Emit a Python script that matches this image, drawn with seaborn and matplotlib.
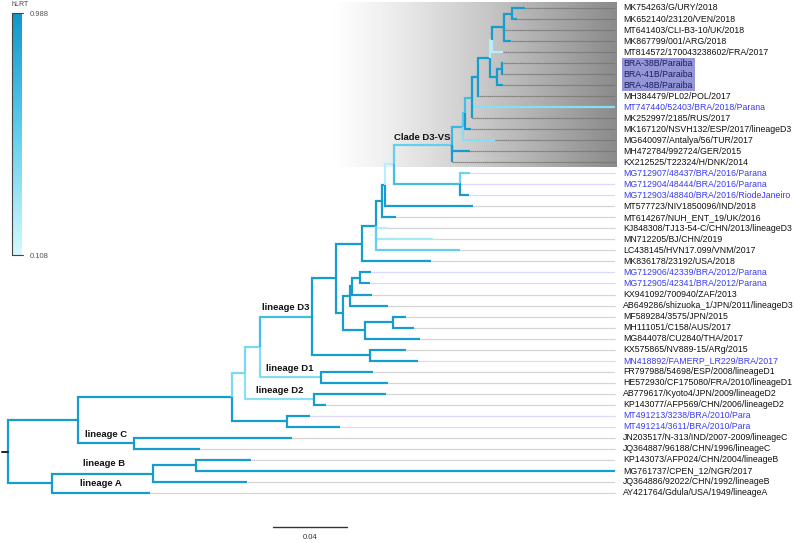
import numpy as np
import matplotlib
matplotlib.use("Agg")
import matplotlib.pyplot as plt
import seaborn as sns

# ---- data -------------------------------------------------------------
leaf_names = [
    "MK754263/G/URY/2018", "MK652140/23120/VEN/2018", "MT641403/CLI-B3-10/UK/2018",
    "MK867799/001/ARG/2018", "MT814572/170043238602/FRA/2017", "BRA-38B/Paraiba",
    "BRA-41B/Paraiba", "BRA-48B/Paraiba", "MH384479/PL02/POL/2017",
    "MT747440/52403/BRA/2018/Parana", "MK252997/2185/RUS/2017",
    "MK167120/NSVH132/ESP/2017/lineageD3", "MG640097/Antalya/56/TUR/2017",
    "MH472784/992724/GER/2015", "KX212525/T22324/H/DNK/2014",
    "MG712907/48437/BRA/2016/Parana", "MG712904/48444/BRA/2016/Parana",
    "MG712903/48840/BRA/2016/RiodeJaneiro", "MT577723/NIV1850096/IND/2018",
    "MT614267/NUH_ENT_19/UK/2016", "KJ848308/TJ13-54-C/CHN/2013/lineageD3",
    "MN712205/BJ/CHN/2019", "LC438145/HVN17.099/VNM/2017", "MK836178/23192/USA/2018",
    "MG712906/42339/BRA/2012/Parana", "MG712905/42341/BRA/2012/Parana",
    "KX941092/700940/ZAF/2013", "AB649286/shizuoka_1/JPN/2011/lineageD3",
    "MF589284/3575/JPN/2015", "MH111051/C158/AUS/2017", "MG844078/CU2840/THA/2017",
    "KX575865/NV889-15/ARg/2015", "MN418892/FAMERP_LR229/BRA/2017",
    "FR797988/54698/ESP/2008/lineageD1", "HE572930/CF175080/FRA/2010/lineageD1",
    "AB779617/Kyoto4/JPN/2009/lineageD2", "KP143077/AFP569/CHN/2006/lineageD2",
    "MT491213/3238/BRA/2010/Para", "MT491214/3611/BRA/2010/Para",
    "JN203517/N-313/IND/2007-2009/lineageC", "JQ364887/96188/CHN/1996/lineageC",
    "KP143073/AFP024/CHN/2004/lineageB", "MG761737/CPEN_12/NGR/2017",
    "JQ364886/92022/CHN/1992/lineageB", "AY421764/Gdula/USA/1949/lineageA",
]

# topology with branch lengths, built clade by clade (leaves are L<index>)
d3vs = ("(((((((((L0:0.0070,L1:0.0027)N01:0.0043,L2:0.0005,L3:0.0038)Q:0.0065,"
        "L4:0.0059)n492:0.0011,((L5:0.0005,L6:0.0005)P1:0.0027,L7:0.0032)P:0.0038)n490:0.0065,"
        "L8:0.0005)n478:0.0032,L9:0.0773,L10:0.0)O:0.0038,L11:0.0032)K:0.0011,"
        "L12:0.0173)M:0.0059,L13:0.0097,L14:0.0)D3VS:0.0314")
x_clade = "(" + d3vs + ",(L15:0.0054,L16:0.0005,L17:0.0049)N1517:0.0357)X:0.0049"
w_clade = ("(((" + x_clade + ",L18:0.0476)Y:0.0016,L19:0.0076)Z:0.0032,"
           "L20:0.0065,L21:0.0308,L22:0.0454)W:0.0076")
v_clade = "(" + w_clade + ",L23:0.0373)V:0.0141"
u_clade = ("((((L24:0.0059,L25:0.0054)N2425:0.0043,L26:0.0108)T1:0.0011,L27:0.0205)T:0.0038,"
           "((L28:0.0070,L29:0.0114)N2829:0.0151,L30:0.0297)S:0.0119)U:0.0038")
d3 = "((" + v_clade + "," + u_clade + ")n336:0.0130,(L31:0.0195,L32:0.0259)N3132:0.0314)D3:0.0281"
d13 = "(" + d3 + ",(L33:0.0281,L34:0.0362)D1:0.0330)D13:0.0081"
d123 = "(" + d13 + ",(L35:0.0389,L36:0.0065)D2:0.0373)D123:0.0070"
d_clade = "(" + d123 + ",(L37:0.0124,L38:0.0286)Para:0.0297)D:0.0832"
cd = "(" + d_clade + ",(L39:0.0854,L40:0.0357)C:0.0303)CD:0.0378"
ab = "(((L41:0.0297,L42:0.2265)B4142:0.0232,L43:0.0508)Bn:0.0546,L44:0.0530)AB:0.0238"
newick = "(" + cd + "," + ab + ")root;"

# hLRT support of the branches that are not (close to) maximal
support = {
    "D123": 0.45, "D13": 0.45, "D3": 0.70, "D1": 0.42, "D2": 0.38,
    "X": 0.22, "D3VS": 0.55, "N1517": 0.70, "M": 0.75, "K": 0.60, "O": 0.70,
    "n492": 0.22, "L4": 0.22, "L9": 0.40, "L12": 0.40, "L15": 0.50,
    "L20": 0.22, "L21": 0.28, "L22": 0.55,
}
default_support = 0.95
hlrt_range = [0.108, 0.988]

highlighted = ["BRA-38B/Paraiba", "BRA-41B/Paraiba", "BRA-48B/Paraiba"]
clade_labels = [
    ("Clade D3-VS", "D3VS", -1, -0.6), ("lineage D3", "D3", -2, -0.8),
    ("lineage D1", "D1", -7, -0.8), ("lineage D2", "D2", -10, -0.8),
    ("lineage C", "C", -7, -0.8), ("lineage B", "Bn", -28, -0.9),
    ("lineage A", "L44", -28, -0.85),
]
shaded_leaves = (0, 14)
scale_length = 0.04


# ---- tree parsing / layout -------------------------------------------
def parse_newick(text):
    s = "".join(text.split())
    pos = 0

    def node():
        nonlocal pos
        children = []
        if s[pos] == "(":
            pos += 1
            while True:
                children.append(node())
                if s[pos] == ",":
                    pos += 1
                    continue
                pos += 1
                break
        start = pos
        while s[pos] not in ":,();":
            pos += 1
        name = s[start:pos]
        length = 0.0
        if s[pos] == ":":
            pos += 1
            start = pos
            while s[pos] not in ",();":
                pos += 1
            length = float(s[start:pos])
        return {"name": name, "length": length, "children": children}

    return node()


tree = parse_newick(newick)
segments = []  # L-shaped branches: parent x/y -> child x/y
leaves = []
nodes = {}


def layout(nd, depth):
    nd["x"] = depth + nd["length"]
    for ch in nd["children"]:
        layout(ch, nd["x"])
    if nd["children"]:
        nd["y"] = (nd["children"][0]["y"] + nd["children"][-1]["y"]) / 2
    else:
        nd["y"] = int(nd["name"][1:])
        leaves.append(nd)


def collect(nd, parent=None):
    nodes[nd["name"]] = nd
    if parent is not None:
        segments.append((parent["x"], parent["y"], nd["x"], nd["y"],
                         support.get(nd["name"], default_support)))
    for ch in nd["children"]:
        collect(ch, nd)


layout(tree, 0.0)
collect(tree)

# ---- figure -------------------------------------------------------------
sns.set_theme(style="white")
plt.rcParams["font.family"] = ["Liberation Sans", "DejaVu Sans"]

W, H = 794, 543
px_per_unit = 1850.0
x0_px, y0_px, row_px = 8.0, 8.0, 11.02


def dx(px):
    return px / px_per_unit


fig = plt.figure(figsize=(W / 100, H / 100), dpi=100)
ax = fig.add_axes([0, 0, 1, 1])
ax.axis("off")

cmap = sns.blend_palette(["#d4f9fd", "#62cfee", "#0e98cc"], as_cmap=True)
norm = plt.Normalize(*hlrt_range)

align_x = dx(615 - x0_px)
label_x = dx(623 - x0_px)

# grey clade shading
grad = np.linspace(0, 1, 300) ** 1.2
shade = np.zeros((1, 300, 4))
shade[..., :3] = 0.52
shade[..., 3] = grad * 0.95
ax.imshow(shade, extent=[dx(330 - x0_px), dx(617 - x0_px),
                         shaded_leaves[1] + 0.45, shaded_leaves[0] - 0.45],
          aspect="auto", interpolation="bilinear", zorder=0)

# leaf extension lines and labels
for lf in leaves:
    i = lf["y"]
    name = leaf_names[i]
    blue = "/BRA/" in name
    if shaded_leaves[0] <= i <= shaded_leaves[1]:
        col = "#6f6f6f"
    elif blue:
        col = "#c4c4ff"
    else:
        col = "#bdbdbd"
    if lf["x"] < align_x:
        ax.plot([lf["x"], align_x], [i, i], color=col, lw=0.9,
                ls=(0, (1, 0.6)), zorder=1, solid_capstyle="butt")
    if name in highlighted:
        ax.add_patch(plt.Rectangle((label_x - dx(1), i - 0.5), dx(73), 1.0,
                                   color="#9496d8", lw=0, zorder=1))
        tcol = "#1d1d60"
    else:
        tcol = "#3b3bf2" if blue else "#111111"
    ax.text(label_x, i, name, fontsize=6.3, color=tcol, va="center", ha="left",
            zorder=3)

# branches
for (px, py, cx, cy, sup) in segments:
    c = cmap(norm(sup))
    ax.plot([px, px, min(cx, align_x)], [py, cy, cy], color=c, lw=1.6,
            solid_capstyle="butt", solid_joinstyle="miter", zorder=2)

# root stub
ax.plot([dx(-6), 0], [tree["y"], tree["y"]], color="#222222", lw=1.4)

# clade labels
for text, nm, off, dy in clade_labels:
    nd = nodes[nm]
    ax.text(nd["x"] + dx(off), nd["y"] + dy, text, fontsize=6.8,
            fontweight="bold", ha="right", va="center", color="#111111", zorder=4)

# scale bar
sb_x = dx(273 - x0_px)
sb_y = (527 - y0_px) / row_px
ax.plot([sb_x, sb_x + scale_length], [sb_y, sb_y], color="#333333", lw=1.0)
ax.text(sb_x + scale_length / 2, sb_y + 0.95, f"{scale_length}", fontsize=5.5,
        ha="center", va="center", color="#333333")

ax.set_xlim(-x0_px / px_per_unit, (W - x0_px) / px_per_unit)
ax.set_ylim((H - y0_px) / row_px, -y0_px / row_px)

# hLRT colour legend
cax = fig.add_axes([13 / W, 1 - 255 / H, 9 / W, 242 / H])
cax.imshow(np.linspace(hlrt_range[1], hlrt_range[0], 256)[:, None], cmap=cmap,
           norm=norm, aspect="auto")
cax.axis("off")
fig.add_artist(plt.Line2D([12 / W, 12 / W, 23 / W], [1 - 255 / H, 1 - 13 / H, 1 - 13 / H],
                          color="#444444", lw=0.8))
fig.add_artist(plt.Line2D([12 / W, 23 / W], [1 - 255 / H, 1 - 255 / H],
                          color="#444444", lw=0.8))
fig.text(12 / W, 1 - 5 / H, "hLRT", fontsize=5, color="#444444", va="center")
fig.text(30 / W, 1 - 15 / H, f"{hlrt_range[1]}", fontsize=5.5, color="#555555", va="center")
fig.text(30 / W, 1 - 257 / H, f"{hlrt_range[0]}", fontsize=5.5, color="#555555", va="center")

fig.savefig("out.png", dpi=100)
